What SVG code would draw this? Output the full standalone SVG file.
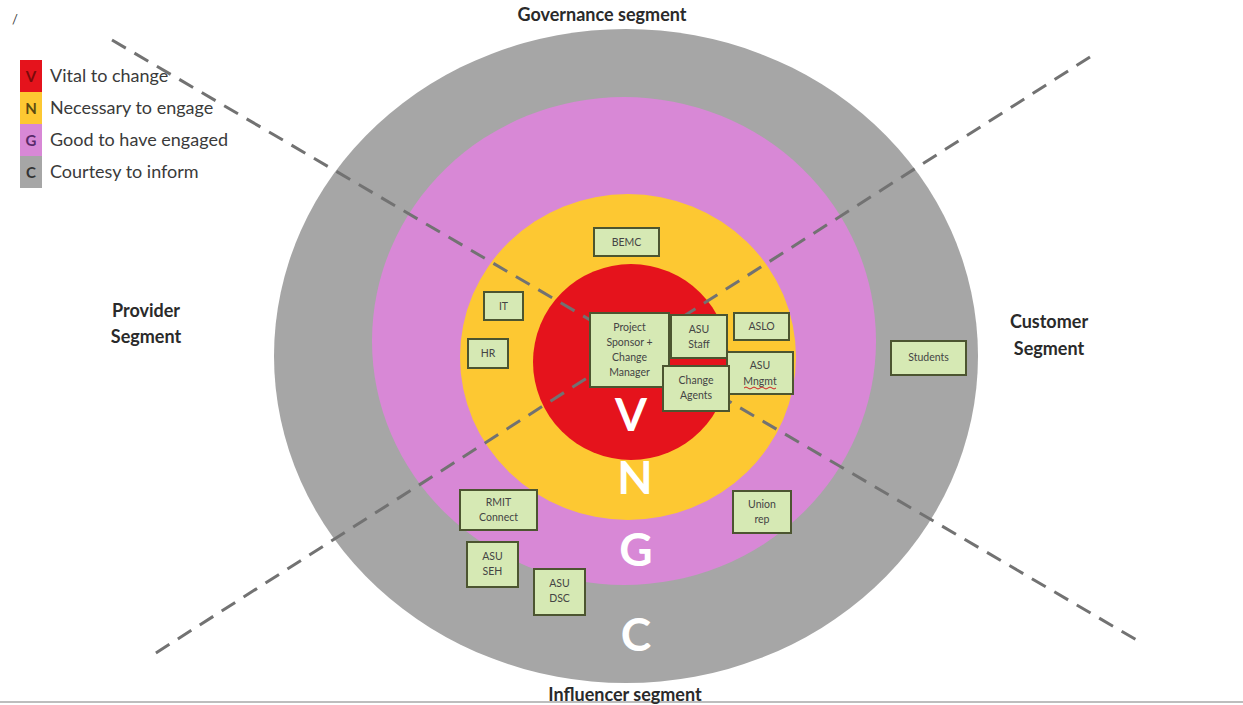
<svg xmlns="http://www.w3.org/2000/svg" width="1243" height="705" viewBox="0 0 1243 705">
<style>
.t{font-family:Lato,"Open Sans","Liberation Sans",sans-serif;fill:#3a3a3a}
.seg{font-size:18px;font-weight:bold;text-anchor:middle;fill:#2a2a2a}
.leg{font-size:18px}
.ll{font-size:15px;font-weight:bold;text-anchor:middle}
.big{font-family:Lato,"Open Sans","Liberation Sans",sans-serif;font-size:46px;font-weight:bold;fill:#fff;text-anchor:middle}
.box rect{fill:#d6e9b4;stroke:#4c5530;stroke-width:2}
.box text{font-family:Lato,"Open Sans","Liberation Sans",sans-serif;font-size:10.5px;fill:#444;text-anchor:middle}
.dash{stroke:#727272;stroke-width:3;stroke-dasharray:16 10;fill:none}
</style>
<rect width="1243" height="705" fill="#fff"/>
<text class="t" x="12" y="24" font-size="13">/</text>
<line x1="0" y1="702" x2="1243" y2="702" stroke="#bdbdbd" stroke-width="2"/>

<g id="rings">
<ellipse cx="626" cy="356" rx="352" ry="327" fill="#a6a6a6"/>
<ellipse cx="624" cy="341" rx="252" ry="244" fill="#d888d6"/>
<ellipse cx="628" cy="357" rx="168" ry="163" fill="#fdc832"/>
<ellipse cx="631" cy="362" rx="98" ry="98" fill="#e5131c"/>
<text class="big" x="631" y="431">V</text>
<text class="big" x="635" y="494">N</text>
<text class="big" x="636" y="566">G</text>
<text class="big" x="636" y="651">C</text>
</g>

<g id="connectors">
<line class="dash" x1="112" y1="40" x2="1140" y2="642"/>
<line class="dash" x1="1090" y1="57" x2="148" y2="658"/>
</g>

<g id="legend">
<rect x="20" y="60" width="22" height="32" fill="#e5131c"/>
<rect x="20" y="92" width="22" height="32" fill="#fdc832"/>
<rect x="20" y="124" width="22" height="32" fill="#d888d6"/>
<rect x="20" y="156" width="22" height="32" fill="#a6a6a6"/>
<text class="t ll" x="31" y="82" style="fill:#7a0a0a">V</text>
<text class="t ll" x="31" y="114" style="fill:#5a4a10">N</text>
<text class="t ll" x="31" y="146" style="fill:#5a2a6a">G</text>
<text class="t ll" x="31" y="178" style="fill:#333">C</text>
<text class="t leg" x="50" y="82">Vital to change</text>
<text class="t leg" x="50" y="114">Necessary to engage</text>
<text class="t leg" x="50" y="146">Good to have engaged</text>
<text class="t leg" x="50" y="178">Courtesy to inform</text>
</g>

<g id="segments">
<text class="t seg" x="602" y="21">Governance segment</text>
<text class="t seg" x="146" y="317">Provider</text>
<text class="t seg" x="146" y="343">Segment</text>
<text class="t seg" x="1049" y="328">Customer</text>
<text class="t seg" x="1049" y="355">Segment</text>
<text class="t seg" x="625" y="701">Influencer segment</text>
</g>

<g id="bemc" class="box"><rect x="594" y="228" width="65" height="28"/><text x="626.5" y="246">BEMC</text></g>
<g id="it" class="box"><rect x="484" y="292" width="39" height="28"/><text x="503.5" y="310">IT</text></g>
<g id="hr" class="box"><rect x="468" y="339" width="40" height="29"/><text x="488" y="357">HR</text></g>
<g id="sponsor" class="box"><rect x="590" y="313" width="79" height="74"/>
<text x="629.5" y="331">Project</text><text x="629.5" y="346">Sponsor +</text><text x="629.5" y="361">Change</text><text x="629.5" y="376">Manager</text></g>
<g id="asustaff" class="box"><rect x="671" y="315" width="56" height="43"/><text x="699" y="333">ASU</text><text x="699" y="348">Staff</text></g>
<g id="aslo" class="box"><rect x="734" y="313" width="55" height="27"/><text x="761.5" y="330">ASLO</text></g>
<g id="asumngmt" class="box"><rect x="727" y="352" width="66" height="42"/><text x="760" y="369">ASU</text><text x="760" y="385">Mngmt</text>
<path d="M744 388 q2 -2 4 0 t4 0 t4 0 t4 0 t4 0 t4 0 t4 0 t4 0" stroke="#d02020" stroke-width="1" fill="none"/></g>
<g id="changeagents" class="box"><rect x="663" y="366" width="66" height="45"/><text x="696" y="384">Change</text><text x="696" y="399">Agents</text></g>
<g id="students" class="box"><rect x="891" y="341" width="75" height="34"/><text x="928.5" y="361">Students</text></g>
<g id="rmit" class="box"><rect x="460" y="490" width="77" height="40"/><text x="498.5" y="506">RMIT</text><text x="498.5" y="521">Connect</text></g>
<g id="union" class="box"><rect x="733" y="491" width="58" height="42"/><text x="762" y="508">Union</text><text x="762" y="523">rep</text></g>
<g id="seh" class="box"><rect x="467" y="542" width="51" height="45"/><text x="492.5" y="560">ASU</text><text x="492.5" y="575">SEH</text></g>
<g id="dsc" class="box"><rect x="534" y="569" width="51" height="46"/><text x="559.5" y="587">ASU</text><text x="559.5" y="602">DSC</text></g>
</svg>
